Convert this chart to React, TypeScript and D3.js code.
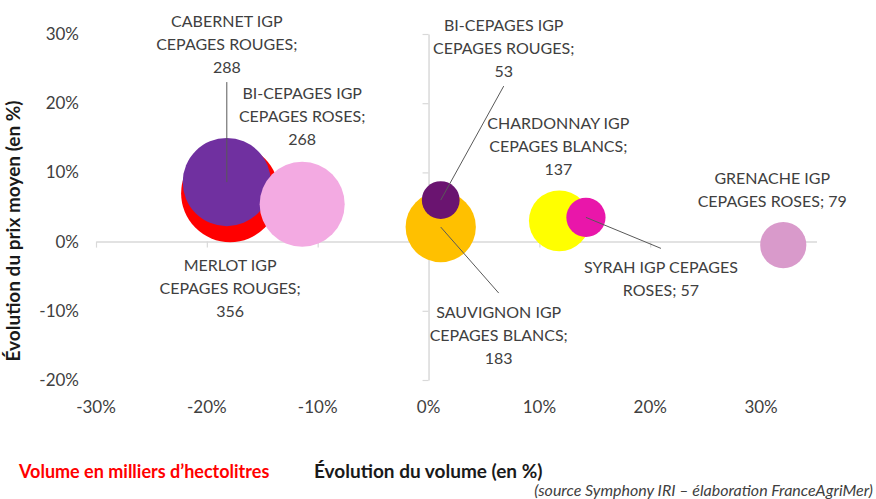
import { useEffect, useRef } from 'react';
import * as d3 from 'd3';

// Bubble data: evolution of volume (x), evolution of mean price (y), volume in thousand hl (size)
const varieties = [
  'MERLOT',
  'CABERNET',
  'BI-CEPAGES ROSES',
  'SAUVIGNON',
  'CHARDONNAY',
  'GRENACHE',
  'SYRAH',
  'BI-CEPAGES ROUGES'
];
const volumeChange = [-0.179, -0.182, -0.114, 0.011, 0.118, 0.32, 0.142, 0.011];
const priceChange = [0.07, 0.086, 0.054, 0.021, 0.03, -0.005, 0.035, 0.06];
const volumes = [356, 288, 268, 183, 137, 79, 57, 53];
const labels = [
  'MERLOT IGP|CEPAGES ROUGES;|356',
  'CABERNET IGP|CEPAGES ROUGES;|288',
  'BI-CEPAGES IGP|CEPAGES ROSES;|268',
  'SAUVIGNON IGP|CEPAGES BLANCS;|183',
  'CHARDONNAY IGP|CEPAGES BLANCS;|137',
  'GRENACHE IGP|CEPAGES ROSES; 79',
  'SYRAH IGP CEPAGES|ROSES; 57',
  'BI-CEPAGES IGP|CEPAGES ROUGES;|53'
];

const xTicks = [-0.3, -0.2, -0.1, 0, 0.1, 0.2, 0.3];
const yTicks = [-0.2, -0.1, 0, 0.1, 0.2, 0.3];

// styling / label placement (px offsets from bubble centre)
const colors = ['#FF0000', '#7030A0', '#F3AAE2', '#FFC000', '#FFFF00', '#D99ACB', '#E916AA', '#6A1470'];
const labelOffsets = [
  { dx: 0, dy: 72, leader: false },
  { dx: 0, dy: -161, leader: true },
  { dx: 0, dy: -111, leader: false },
  { dx: 58, dy: 85, leader: true },
  { dx: -1, dy: -97, leader: false },
  { dx: -11, dy: -67, leader: false },
  { dx: 75, dy: 50, leader: true },
  { dx: 63, dy: -175, leader: true }
];

const FONT = 'Lato, Carlito, Calibri, sans-serif';
const TEXT = '#404040';

export default function App() {
  const svgRef = useRef<SVGSVGElement>(null);
  const width = 876;
  const height = 499;

  useEffect(() => {
    if (!svgRef.current) return;
    const svg = d3.select(svgRef.current);
    svg.selectAll('*').remove();

    const xScale = d3.scaleLinear().domain([-0.3, 0.35]).range([96, 816.5]);
    const yScale = d3.scaleLinear().domain([-0.2, 0.3]).range([380, 34]);
    const rScale = d3.scaleSqrt().domain([0, 356]).range([0, 49]);
    // Excel-style percent with a plain hyphen minus
    const fmt = (v: number) => `${Math.round(v * 100)}%`;

    svg.append('rect')
      .attr('width', width)
      .attr('height', height)
      .attr('fill', 'white');

    // Horizontal axis through y = 0
    const xAxis = svg.append('g')
      .attr('transform', `translate(0,${yScale(0)})`)
      .call(d3.axisBottom(xScale).tickValues(xTicks).tickSize(6).tickSizeOuter(0).tickFormat(() => ''));
    xAxis.select('.domain').attr('stroke', '#D9D9D9').attr('stroke-width', 1.5);
    xAxis.selectAll('.tick line').attr('stroke', '#D9D9D9').attr('stroke-width', 1.2);

    // Vertical axis through x = 0
    const yAxis = svg.append('g')
      .attr('transform', `translate(${xScale(0)},0)`)
      .call(d3.axisLeft(yScale).tickValues(yTicks).tickSize(6).tickSizeOuter(0).tickFormat(() => ''));
    yAxis.select('.domain').attr('stroke', '#D9D9D9').attr('stroke-width', 1.5);
    yAxis.selectAll('.tick line').attr('stroke', '#D9D9D9').attr('stroke-width', 1.2);

    // Tick labels (low position)
    svg.append('g')
      .selectAll('text')
      .data(xTicks)
      .enter().append('text')
      .attr('x', d => xScale(d))
      .attr('y', 413)
      .attr('text-anchor', 'middle')
      .style('font-family', FONT)
      .style('font-size', '17px')
      .style('fill', TEXT)
      .text(d => fmt(d));

    svg.append('g')
      .selectAll('text')
      .data(yTicks)
      .enter().append('text')
      .attr('x', 79)
      .attr('y', d => yScale(d))
      .attr('dy', '0.35em')
      .attr('text-anchor', 'end')
      .style('font-family', FONT)
      .style('font-size', '17px')
      .style('fill', TEXT)
      .text(d => fmt(d));

    const points = varieties.map((name, i) => ({
      name,
      x: xScale(volumeChange[i]),
      y: yScale(priceChange[i]),
      r: rScale(volumes[i]),
      color: colors[i],
      lines: labels[i].split('|'),
      off: labelOffsets[i]
    }));

    // Bubbles
    svg.append('g')
      .selectAll('circle')
      .data(points)
      .enter().append('circle')
      .attr('cx', d => d.x)
      .attr('cy', d => d.y)
      .attr('r', d => d.r)
      .attr('fill', d => d.color);

    const lineH = 23;

    // Leader lines
    points.filter(d => d.off.leader).forEach(d => {
      const lx = d.x + d.off.dx;
      const below = d.off.dy > 0;
      const ly = below
        ? d.y + d.off.dy - 19
        : d.y + d.off.dy + (d.lines.length - 1) * lineH + 15;
      svg.append('line')
        .attr('x1', d.x)
        .attr('y1', d.y)
        .attr('x2', lx)
        .attr('y2', ly)
        .attr('stroke', '#595959')
        .attr('stroke-width', 1);
    });

    // Data labels
    points.forEach(d => {
      const t = svg.append('text')
        .attr('text-anchor', 'middle')
        .style('font-family', FONT)
        .style('font-size', '16px')
        .style('fill', TEXT);
      d.lines.forEach((line, j) => {
        t.append('tspan')
          .attr('x', d.x + d.off.dx)
          .attr('y', d.y + d.off.dy + j * lineH)
          .attr('dy', '0.35em')
          .text(line);
      });
    });

    // Axis titles
    svg.append('text')
      .attr('transform', `translate(20,231) rotate(-90)`)
      .attr('text-anchor', 'middle')
      .style('font-family', FONT)
      .style('font-weight', 'bold')
      .style('font-size', '19px')
      .style('fill', '#1a1a1a')
      .text('Évolution du prix moyen (en %)');

    svg.append('text')
      .attr('x', 314)
      .attr('y', 478)
      .style('font-family', FONT)
      .style('font-weight', 'bold')
      .style('font-size', '19px')
      .style('fill', '#1a1a1a')
      .text('Évolution du volume (en %)');

    svg.append('text')
      .attr('x', 19)
      .attr('y', 478)
      .style('font-family', FONT)
      .style('font-weight', 'bold')
      .style('font-size', '18px')
      .style('fill', '#FF0000')
      .text('Volume en milliers d’hectolitres');

    svg.append('text')
      .attr('x', 873)
      .attr('y', 496)
      .attr('text-anchor', 'end')
      .style('font-family', FONT)
      .style('font-style', 'italic')
      .style('font-size', '16px')
      .style('fill', '#404040')
      .text('(source Symphony IRI – élaboration FranceAgriMer)');
  }, []);

  return (
    <svg
      ref={svgRef}
      width={width}
      height={height}
      style={{ position: 'absolute', left: 0, top: 0, display: 'block' }}
    />
  );
}
